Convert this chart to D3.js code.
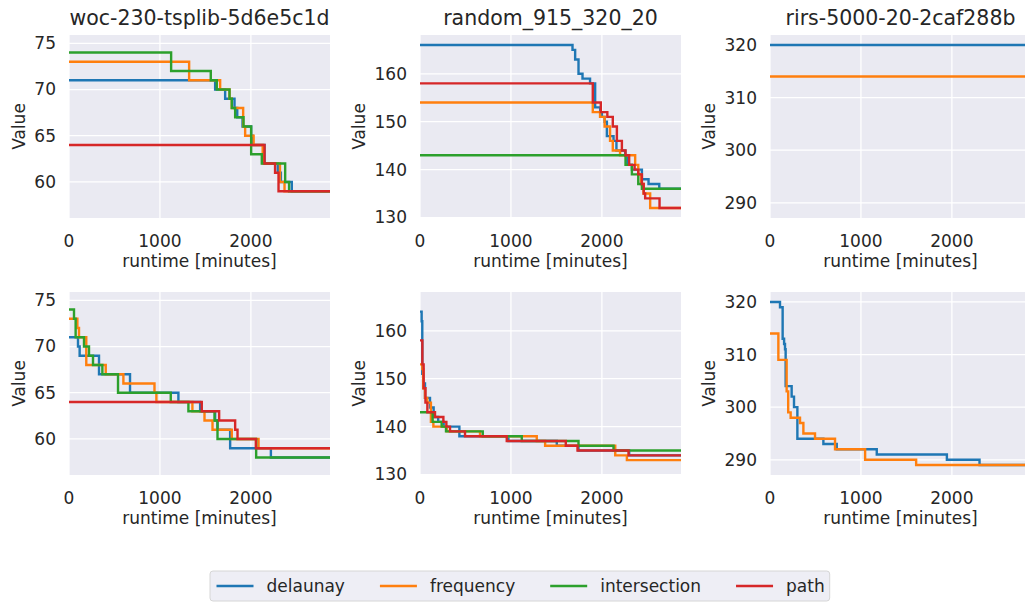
<!DOCTYPE html>
<html><head><meta charset="utf-8">
<script src="https://cdn.jsdelivr.net/npm/d3@7"></script>
<style>
body{margin:0;background:#fff;}
text{font-family:"DejaVu Sans",sans-serif;fill:#262626;}
</style>
</head><body>
<svg id="c" width="1025" height="603"></svg>
<script>
// ---------------- data ----------------
const instances = ["woc-230-tsplib-5d6e5c1d", "random_915_320_20", "rirs-5000-20-2caf288b"];
const algorithms = ["delaunay", "frequency", "intersection", "path"];
const xTicks = [0, 1000, 2000];
const xDomain = [0, 2870];
const runEnd = 2900;
const yTicksCol = [[60, 65, 70, 75], [130, 140, 150, 160], [290, 300, 310, 320]];
const yDomainCol = [[56.1, 75.9], [129.9, 168.1], [287.1, 321.9]];

// row 1 (top)
const woc1_delaunay = [[0,71],[1607,70],[1717,69],[1820,68],[1850,67],[1908,66],[2003,65],[2020,64],[2150,62],[2296,61],[2330,60],[2450,59]];
const woc1_frequency = [[0,73],[1321,71],[1662,70],[1765,69],[1790,68],[1915,66],[1937,65],[2030,64],[2130,62],[2320,60],[2370,59]];
const woc1_intersection = [[0,74],[1123,72],[1559,71],[1625,70],[1765,69],[1790,68],[1827,67],[1919,66],[2003,63],[2120,62],[2377,60],[2420,59]];
const woc1_path = [[0,64],[2150,62],[2266,61],[2304,59]];

const rand1_delaunay = [[0,166],[1677,165],[1706,163],[1743,160],[1787,159],[1870,158],[1926,153],[1981,152],[2000,151],[2030,150],[2055,147],[2128,146],[2160,144],[2257,143],[2280,141],[2330,140],[2440,138],[2513,137],[2631,136]];
const rand1_frequency = [[0,154],[1900,152],[1980,151],[2030,149],[2090,146],[2120,144],[2200,143],[2366,141],[2400,139],[2430,137],[2458,135],[2531,132]];
const rand1_intersection = [[0,143],[2260,141],[2330,139],[2400,137],[2440,136]];
const rand1_path = [[0,158],[1900,154],[1988,152],[2060,151],[2120,149],[2165,146],[2220,144],[2260,143],[2300,141],[2360,140],[2400,139],[2440,137],[2460,135],[2476,134],[2634,132]];

const rirs1_delaunay = [[0,320]];
const rirs1_frequency = [[0,314]];
const rirs1_intersection = [];
const rirs1_path = [];

// row 2 (bottom)
const woc2_delaunay = [[0,71],[99,70],[117,69],[330,67],[671,65],[1203,64],[1442,63],[1607,62],[1633,61],[1772,59],[2220,58]];
const woc2_frequency = [[0,73],[92,72],[110,71],[190,68],[404,67],[598,66],[940,65],[961,64],[1357,63],[1490,62],[1578,61],[1790,60],[2084,59]];
const woc2_intersection = [[0,74],[55,73],[73,71],[165,70],[220,69],[264,68],[367,67],[539,65],[1119,64],[1313,63],[1600,62],[1633,60],[2058,58]];
const woc2_path = [[0,64],[1460,63],[1651,62],[1827,61],[1853,60],[2055,59]];

const rand2_delaunay = [[0,164],[18,162],[25,151],[35,149],[55,146],[110,144],[150,142],[200,141],[260,140],[433,138],[972,137],[1504,136],[1743,135],[2300,134]];
const rand2_frequency = [[0,153],[26,152],[35,148],[55,146],[80,145],[120,141],[147,140],[294,139],[660,138],[1284,137],[1376,136],[2147,134],[2275,133]];
const rand2_intersection = [[0,143],[139,141],[238,140],[286,139],[690,138],[1119,137],[1743,136],[2128,135]];
const rand2_path = [[0,158],[26,153],[40,148],[60,145],[81,143],[165,142],[257,141],[290,140],[330,139],[495,138],[954,137],[1603,136],[1732,135],[2293,134]];

const rirs2_delaunay = [[0,320],[110,319],[139,313],[155,312],[165,311],[172,304],[238,302],[264,300],[301,294],[587,293],[734,292],[1174,291],[1945,290],[2304,289]];
const rirs2_frequency = [[0,314],[92,309],[183,303],[200,299],[227,298],[330,297],[367,295],[495,294],[715,292],[1046,290],[1607,289]];
const rirs2_intersection = [];
const rirs2_path = [];

const runs = [
  [
    {delaunay: woc1_delaunay, frequency: woc1_frequency, intersection: woc1_intersection, path: woc1_path},
    {delaunay: rand1_delaunay, frequency: rand1_frequency, intersection: rand1_intersection, path: rand1_path},
    {delaunay: rirs1_delaunay, frequency: rirs1_frequency, intersection: rirs1_intersection, path: rirs1_path}
  ],
  [
    {delaunay: woc2_delaunay, frequency: woc2_frequency, intersection: woc2_intersection, path: woc2_path},
    {delaunay: rand2_delaunay, frequency: rand2_frequency, intersection: rand2_intersection, path: rand2_path},
    {delaunay: rirs2_delaunay, frequency: rirs2_frequency, intersection: rirs2_intersection, path: rirs2_path}
  ]
];

// ---------------- style / layout ----------------
const colors = {delaunay: "#1f77b4", frequency: "#ff7f0e", intersection: "#2ca02c", path: "#d62728"};
const colLeft = [69, 420, 770];
const rowTop = [35, 292];
const plotW = 261, plotH = 183;
const tickFont = 17, labelFont = 17, titleFont = 20.5;
const lineW = 2.4;

const svg = d3.select("#c");

runs.forEach((row, r) => {
  row.forEach((panel, c) => {
    const x0 = colLeft[c], y0 = rowTop[r];
    const xs = d3.scaleLinear().domain(xDomain).range([x0, x0 + plotW]);
    const ys = d3.scaleLinear().domain(yDomainCol[c]).range([y0 + plotH, y0]);
    const g = svg.append("g");
    const clipId = `clip${r}${c}`;
    g.append("clipPath").attr("id", clipId).append("rect")
      .attr("x", x0).attr("y", y0).attr("width", plotW).attr("height", plotH);
    g.append("rect").attr("x", x0).attr("y", y0).attr("width", plotW).attr("height", plotH)
      .attr("fill", "#eaeaf2");
    // grid
    g.selectAll(".gx").data(xTicks).join("line")
      .attr("x1", d => xs(d)).attr("x2", d => xs(d)).attr("y1", y0).attr("y2", y0 + plotH)
      .attr("stroke", "#fff").attr("stroke-width", 1.25);
    g.selectAll(".gy").data(yTicksCol[c]).join("line").attr("class", "gy")
      .attr("x1", x0).attr("x2", x0 + plotW).attr("y1", d => ys(d)).attr("y2", d => ys(d))
      .attr("stroke", "#fff").attr("stroke-width", 1.25);
    // lines
    const line = d3.line().x(d => xs(d[0])).y(d => ys(d[1])).curve(d3.curveStepAfter);
    const lg = g.append("g").attr("clip-path", `url(#${clipId})`);
    algorithms.forEach(a => {
      const pts = panel[a];
      if (!pts.length) return;
      const full = pts.concat([[runEnd, pts[pts.length - 1][1]]]);
      lg.append("path").attr("d", line(full)).attr("fill", "none")
        .attr("stroke", colors[a]).attr("stroke-width", lineW)
        .attr("stroke-linejoin", "miter").attr("stroke-linecap", "square");
    });
    // x tick labels
    g.selectAll(".xt").data(xTicks).join("text")
      .attr("x", d => xs(d)).attr("y", y0 + plotH + 23).attr("dy", "0.35em")
      .attr("text-anchor", "middle").style("font-size", tickFont + "px").text(d => d);
    // y tick labels
    const yt = g.selectAll(".yt").data(yTicksCol[c]).join("text")
      .attr("x", x0 - 13).attr("y", d => ys(d)).attr("dy", "0.35em")
      .attr("text-anchor", "end").style("font-size", tickFont + "px").text(d => d);
    let maxW = 0;
    yt.each(function(){ maxW = Math.max(maxW, this.getComputedTextLength()); });
    // axis labels
    g.append("text").attr("x", x0 + plotW / 2).attr("y", y0 + plotH + 49)
      .attr("text-anchor", "middle").style("font-size", labelFont + "px").text("runtime [minutes]");
    const lx = x0 - 13 - maxW - 15.5, ly = y0 + plotH / 2;
    g.append("text").attr("transform", `translate(${lx},${ly}) rotate(-90)`).attr("dy", "0.35em")
      .attr("text-anchor", "middle").style("font-size", labelFont + "px").text("Value");
    if (r === 0) {
      g.append("text").attr("x", x0 + plotW / 2).attr("y", y0 - 10)
        .attr("text-anchor", "middle").style("font-size", titleFont + "px").text(instances[c]);
    }
  });
});

// ---------------- legend ----------------
const leg = svg.append("g");
const legBox = leg.append("rect").attr("y", 571).attr("height", 30).attr("rx", 3)
  .attr("fill", "#eeeef5").attr("stroke", "#d6d6d6").attr("stroke-width", 1);
let cx = 216.5;
const legStart = 210;
algorithms.forEach((a, i) => {
  leg.append("line").attr("x1", cx).attr("x2", cx + 37).attr("y1", 586).attr("y2", 586)
    .attr("stroke", colors[a]).attr("stroke-width", lineW);
  cx += 37 + 13;
  const t = leg.append("text").attr("x", cx).attr("y", 586).attr("dy", "0.35em")
    .style("font-size", labelFont + "px").text(a);
  cx += t.node().getComputedTextLength();
  if (i < algorithms.length - 1) cx += 35;
});
legBox.attr("x", legStart).attr("width", cx + 5 - legStart);
</script>
</body></html>
